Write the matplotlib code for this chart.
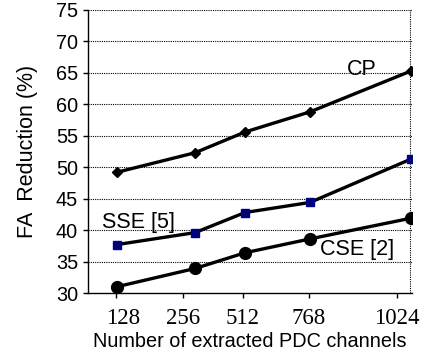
"""FA reduction vs number of extracted PDC channels"""

import matplotlib
matplotlib.use('Agg')
import matplotlib.pyplot as plt
import matplotlib.transforms as mtransforms


###Adjustments
fig_size = (4.27, 3.54)
dpi = 100
sans = 'Liberation Sans'
serif = 'Liberation Serif'
###Adjustments end

# categories and where they sit along the axis (axis runs 0..324)
channels = ['128', '256', '512', '768', '1024']
point_pos = [29, 107, 157, 222, 323]
tick_pos = [28, 95, 155, 221, 309]

cp = [49.2, 52.3, 55.6, 58.8, 65.3]
sse = [37.7, 39.6, 42.8, 44.4, 51.3]
cse = [31.0, 33.9, 36.4, 38.6, 41.9]

y_ticks = [30, 35, 40, 45, 50, 55, 60, 65, 70, 75]


fig = plt.figure(figsize=fig_size, dpi=dpi)
ax = fig.add_axes([0.2061, 0.1723, 0.7588, 0.7995])

for v in y_ticks[1:]:
    ax.axhline(v, color='k', lw=0.8, ls=(0, (1, 1)), zorder=1)
ax.axvline(322, color='k', lw=0.8, ls=(0, (1, 1)), zorder=1)

ax.plot(point_pos, cp, color='k', lw=2.4, marker='D', ms=5, zorder=3)
ax.plot(point_pos, sse, color='k', lw=2.4, marker='s', ms=6,
        mfc='#000080', mec='#000080', zorder=3)
ax.plot(point_pos, cse, color='k', lw=2.4, marker='o', ms=8.5, zorder=3)

ax.text(274, 65.6, 'CP', fontsize=15.5, family=sans, ha='center', va='center')
ax.text(50, 41.2, 'SSE [5]', fontsize=15.5, family=sans, ha='center', va='center')
ax.text(269, 36.9, 'CSE [2]', fontsize=15.5, family=sans, ha='center', va='center')

ax.set_xlim(0, 324)
ax.set_ylim(30, 75)
ax.spines['top'].set_visible(False)
ax.spines['right'].set_visible(False)
ax.spines['left'].set_linewidth(1.0)
ax.spines['bottom'].set_linewidth(1.0)

ax.set_xticks(tick_pos)
ax.set_xticklabels(channels, fontsize=16.5, family=serif)
ax.set_yticks(y_ticks)
ax.set_yticklabels([str(v) for v in y_ticks], fontsize=14.3, family=sans)
ax.tick_params(axis='both', direction='out', length=3.6, width=1.0, pad=3.6)
ax.tick_params(axis='x', pad=7.3)

# the first label sits a little right of its tick in the original
first = ax.get_xticklabels()[0]
first.set_transform(first.get_transform() +
                    mtransforms.ScaledTranslation(7 / dpi, 0, fig.dpi_scale_trans))

ax.set_xlabel('Number of extracted PDC channels', fontsize=14.3, family=sans, labelpad=2)
ax.set_ylabel('FA  Reduction (%)', fontsize=15.5, family=sans, labelpad=13)

fig.savefig('out.png', dpi=dpi)
plt.close()
